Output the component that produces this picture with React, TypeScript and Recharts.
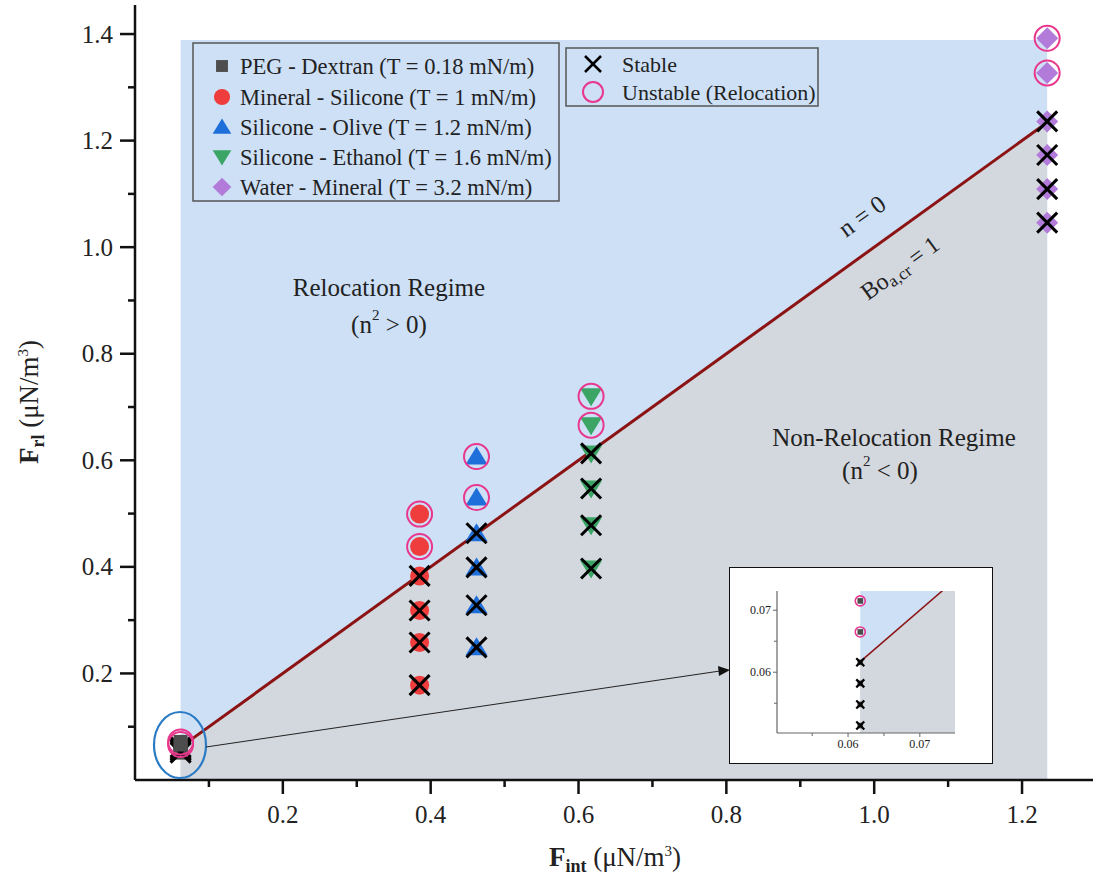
import React from 'react'
import { ComposedChart, Scatter, Line, Area, XAxis, YAxis, ReferenceArea } from 'recharts'

// axis ticks
const xMajor = [0.2, 0.4, 0.6, 0.8, 1.0, 1.2]
const xMinor = [0.1, 0.3, 0.5, 0.7, 0.9, 1.1]
const yMajor = [0.2, 0.4, 0.6, 0.8, 1.0, 1.2, 1.4]
const yMinor = [0.1, 0.3, 0.5, 0.7, 0.9, 1.1, 1.3]
const insetMajor = [0.06, 0.07]
const insetMinor = [0.055, 0.065]

// F_int of each fluid pair, F_rl of stable / unstable runs
const pegX = 0.0617
const pegStable = [0.0616, 0.0582, 0.0548, 0.0514]
const pegUnstable = [0.0715, 0.0665]
const mineralX = 0.385
const mineralStable = [0.383, 0.318, 0.258, 0.178]
const mineralUnstable = [0.499, 0.438]
const oliveX = 0.462
const oliveStable = [0.463, 0.399, 0.328, 0.249]
const oliveUnstable = [0.607, 0.53]
const ethanolX = 0.617
const ethanolStable = [0.613, 0.547, 0.478, 0.397]
const ethanolUnstable = [0.72, 0.666]
const waterX = 1.234
const waterStable = [1.236, 1.173, 1.109, 1.046]
const waterUnstable = [1.392, 1.327]

// n = 0 boundary (Bo_a,cr = 1) and relocation regime extent
const boundaryX = [0.0617, 1.234]
const boundaryY = [0.0617, 1.234]
const regimeTop = 1.389

const pairNames = ['PEG - Dextran', 'Mineral - Silicone', 'Silicone - Olive', 'Silicone - Ethanol', 'Water - Mineral']
const tensions = ['0.18', '1', '1.2', '1.6', '3.2']

const FONT = '"Liberation Serif", "Times New Roman", serif'
const BLUE_BG = '#cde0f6'
const GRAY_BG = '#d3d7de'
const RING = '#e8378c'
const LINE_RED = '#8c1313'

type Kind = 'square' | 'circle' | 'up' | 'down' | 'diamond'
const kinds: Kind[] = ['square', 'circle', 'up', 'down', 'diamond']
const colors = ['#4d4d4d', '#ef3d3d', '#1f6fdb', '#3aa565', '#b27bd9']

function Marker({ kind, color, cx, cy, s = 1 }: { kind: Kind; color: string; cx: number; cy: number; s?: number }) {
    if (kind === 'square') return <rect x={cx - 7 * s} y={cy - 7 * s} width={14 * s} height={14 * s} fill={color} />
    if (kind === 'circle') return <circle cx={cx} cy={cy} r={9.5 * s} fill={color} />
    if (kind === 'up')
        return <polygon points={`${cx},${cy - 10 * s} ${cx + 11 * s},${cy + 8 * s} ${cx - 11 * s},${cy + 8 * s}`} fill={color} />
    if (kind === 'down')
        return <polygon points={`${cx},${cy + 10 * s} ${cx + 11 * s},${cy - 8 * s} ${cx - 11 * s},${cy - 8 * s}`} fill={color} />
    return <polygon points={`${cx},${cy - 11 * s} ${cx + 11 * s},${cy} ${cx},${cy + 11 * s} ${cx - 11 * s},${cy}`} fill={color} />
}

function Cross({ cx, cy, s = 1, w = 3 }: { cx: number; cy: number; s?: number; w?: number }) {
    const h = 10 * s
    return (
        <g stroke="#000" strokeWidth={w}>
            <line x1={cx - h} y1={cy - h} x2={cx + h} y2={cy + h} />
            <line x1={cx - h} y1={cy + h} x2={cx + h} y2={cy - h} />
        </g>
    )
}

function Ring({ cx, cy, s = 1, w = 2 }: { cx: number; cy: number; s?: number; w?: number }) {
    return <circle cx={cx} cy={cy} r={12.5 * s} fill="none" stroke={RING} strokeWidth={w} />
}

const pts = (x: number, ys: number[]) => ys.map((y) => ({ x, y }))
const boundary = boundaryX.map((x, i) => ({ x, y: boundaryY[i] }))

const groups = [
    { stable: pts(pegX, pegStable), unstable: pts(pegX, pegUnstable) },
    { stable: pts(mineralX, mineralStable), unstable: pts(mineralX, mineralUnstable) },
    { stable: pts(oliveX, oliveStable), unstable: pts(oliveX, oliveUnstable) },
    { stable: pts(ethanolX, ethanolStable), unstable: pts(ethanolX, ethanolUnstable) },
    { stable: pts(waterX, waterStable), unstable: pts(waterX, waterUnstable) },
]

function stableShape(i: number, s: number, w: number) {
    return (p: any) => (
        <g>
            <Marker kind={kinds[i]} color={colors[i]} cx={p.cx} cy={p.cy} s={s} />
            <Cross cx={p.cx} cy={p.cy} s={s} w={w} />
        </g>
    )
}

function unstableShape(i: number, s: number, w: number) {
    return (p: any) => (
        <g>
            <Marker kind={kinds[i]} color={colors[i]} cx={p.cx} cy={p.cy} s={s} />
            <Ring cx={p.cx} cy={p.cy} s={s} w={w} />
        </g>
    )
}

const fmt1 = (v: number) => v.toFixed(1)
const fmt2 = (v: number) => v.toFixed(2)

function makeXTick(major: number[], big: number, small: number, fs: number, off: number, stroke: string, sw: number, f: (v: number) => string) {
    return (p: any) => {
        const v = p.payload.value
        const isMajor = major.some((m) => Math.abs(m - v) < 1e-9)
        return (
            <g>
                <line x1={p.x} y1={p.y} x2={p.x} y2={p.y + (isMajor ? big : small)} stroke={stroke} strokeWidth={sw} />
                {isMajor && (
                    <text x={p.x} y={p.y + off} textAnchor="middle" fontSize={fs} fontFamily={FONT} fill="#222">
                        {f(v)}
                    </text>
                )}
            </g>
        )
    }
}

function makeYTick(major: number[], big: number, small: number, fs: number, off: number, stroke: string, sw: number, f: (v: number) => string) {
    return (p: any) => {
        const v = p.payload.value
        const isMajor = major.some((m) => Math.abs(m - v) < 1e-9)
        return (
            <g>
                <line x1={p.x} y1={p.y} x2={p.x - (isMajor ? big : small)} y2={p.y} stroke={stroke} strokeWidth={sw} />
                {isMajor && (
                    <text x={p.x - off} y={p.y} textAnchor="end" dominantBaseline="central" fontSize={fs} fontFamily={FONT} fill="#222">
                        {f(v)}
                    </text>
                )}
            </g>
        )
    }
}

function MainChart() {
    return (
        <ComposedChart width={1093} height={890} margin={{ top: 5, right: 0, bottom: 0, left: 0 }}>
            <XAxis
                type="number"
                dataKey="x"
                domain={[0, 1.296]}
                ticks={[...xMinor, ...xMajor].sort((a, b) => a - b)}
                interval={0}
                tickSize={0}
                tickMargin={0}
                tickLine={false}
                height={110}
                axisLine={{ stroke: '#111', strokeWidth: 2.5 }}
                tick={makeXTick(xMajor, 14, 7, 25, 43, '#111', 2.5, fmt1)}
            />
            <YAxis
                type="number"
                dataKey="y"
                domain={[0, 1.4545]}
                ticks={[...yMinor, ...yMajor].sort((a, b) => a - b)}
                interval={0}
                tickSize={0}
                tickMargin={0}
                tickLine={false}
                width={135}
                axisLine={{ stroke: '#111', strokeWidth: 2.5 }}
                tick={makeYTick(yMajor, 15, 7, 25, 22, '#111', 2.5, fmt1)}
            />
            <ReferenceArea x1={boundaryX[0]} x2={boundaryX[1]} y1={0} y2={regimeTop} fill={BLUE_BG} fillOpacity={1} stroke="none" />
            <Area data={boundary} dataKey="y" type="linear" fill={GRAY_BG} fillOpacity={1} stroke="none" isAnimationActive={false} />
            <Line data={boundary} dataKey="y" type="linear" stroke={LINE_RED} strokeWidth={3} dot={false} isAnimationActive={false} />
            {groups.map((g, i) => (
                <Scatter key={'s' + i} data={g.stable} shape={stableShape(i, 1, 3)} isAnimationActive={false} />
            ))}
            {groups.map((g, i) => (
                <Scatter key={'u' + i} data={g.unstable} shape={unstableShape(i, 1, 2)} isAnimationActive={false} />
            ))}
        </ComposedChart>
    )
}

function InsetChart() {
    return (
        <ComposedChart width={262} height={195} margin={{ top: 23, right: 37, bottom: 0, left: 0 }}>
            <XAxis
                type="number"
                dataKey="x"
                domain={[0.0501, 0.0749]}
                allowDataOverflow
                ticks={[...insetMinor, ...insetMajor].sort((a, b) => a - b)}
                interval={0}
                tickSize={0}
                tickMargin={0}
                tickLine={false}
                height={30}
                axisLine={{ stroke: '#666', strokeWidth: 1.2 }}
                tick={makeXTick(insetMajor, 4, 3, 12, 15, '#666', 1, fmt2)}
            />
            <YAxis
                type="number"
                dataKey="y"
                domain={[0.0502, 0.0731]}
                allowDataOverflow
                ticks={[...insetMinor, ...insetMajor].sort((a, b) => a - b)}
                interval={0}
                tickSize={0}
                tickMargin={0}
                tickLine={false}
                width={47}
                axisLine={{ stroke: '#666', strokeWidth: 1.2 }}
                tick={makeYTick(insetMajor, 4, 3, 12, 6, '#666', 1, fmt2)}
            />
            <ReferenceArea x1={boundaryX[0]} x2={boundaryX[1]} y1={0} y2={regimeTop} ifOverflow="hidden" fill={BLUE_BG} fillOpacity={1} stroke="none" />
            <Area data={boundary} dataKey="y" type="linear" fill={GRAY_BG} fillOpacity={1} stroke="none" isAnimationActive={false} />
            <Line data={boundary} dataKey="y" type="linear" stroke={LINE_RED} strokeWidth={1.5} dot={false} isAnimationActive={false} />
            <Scatter data={groups[0].stable} shape={stableShape(0, 0.4, 2.2)} isAnimationActive={false} />
            <Scatter data={groups[0].unstable} shape={unstableShape(0, 0.4, 1.6)} isAnimationActive={false} />
        </ComposedChart>
    )
}

function Overlay() {
    const legendRows = [66, 97, 127, 157, 187]
    return (
        <svg width={1093} height={890} style={{ position: 'absolute', left: 0, top: 0, pointerEvents: 'none' }} fontFamily={FONT}>
            {/* material legend */}
            <rect x={193} y={43} width={366} height={158} fill="none" stroke="#555" strokeWidth={1.5} />
            {pairNames.map((n, i) => (
                <g key={n}>
                    <Marker kind={kinds[i]} color={colors[i]} cx={222} cy={legendRows[i]} s={0.85} />
                    <text x={240} y={legendRows[i]} dominantBaseline="central" fontSize={22.5} fill="#222">
                        {n} (T = {tensions[i]} mN/m)
                    </text>
                </g>
            ))}
            {/* stability legend */}
            <rect x={566} y={48} width={252} height={58} fill="none" stroke="#555" strokeWidth={1.5} />
            <Cross cx={593} cy={64} s={0.8} w={2.5} />
            <text x={622} y={64} dominantBaseline="central" fontSize={22} fill="#222">Stable</text>
            <circle cx={593} cy={92} r={10} fill="none" stroke={RING} strokeWidth={2} />
            <text x={622} y={92} dominantBaseline="central" fontSize={22} fill="#222">Unstable (Relocation)</text>

            {/* regime annotations */}
            <text x={389} y={287} textAnchor="middle" dominantBaseline="central" fontSize={25} fill="#222">Relocation Regime</text>
            <text x={389} y={324} textAnchor="middle" dominantBaseline="central" fontSize={25} fill="#222">
                (n<tspan dy={-9} fontSize={15}>2</tspan><tspan dy={9}> &gt; 0)</tspan>
            </text>
            <text x={894} y={437} textAnchor="middle" dominantBaseline="central" fontSize={25} fill="#222">Non-Relocation Regime</text>
            <text x={880} y={470} textAnchor="middle" dominantBaseline="central" fontSize={25} fill="#222">
                (n<tspan dy={-9} fontSize={15}>2</tspan><tspan dy={9}> &lt; 0)</tspan>
            </text>
            <text x={862} y={216} textAnchor="middle" dominantBaseline="central" fontSize={25} fill="#222" transform="rotate(-36 862 216)">
                n = 0
            </text>
            <text x={900} y={268} textAnchor="middle" dominantBaseline="central" fontSize={24} fill="#222" transform="rotate(-36 900 268)">
                Bo<tspan dy={6} fontSize={17}>a,cr</tspan><tspan dy={-6}> = 1</tspan>
            </text>

            {/* axis titles */}
            <text x={615} y={866} textAnchor="middle" fontSize={27} fill="#222">
                <tspan fontWeight="bold">F</tspan>
                <tspan fontWeight="bold" fontSize={18} dy={6}>int</tspan>
                <tspan dy={-6}> (μN/m</tspan>
                <tspan fontSize={15} dy={-10}>3</tspan>
                <tspan dy={10}>)</tspan>
            </text>
            <text x={38} y={402} textAnchor="middle" fontSize={27} fill="#222" transform="rotate(-90 38 402)">
                <tspan fontWeight="bold">F</tspan>
                <tspan fontWeight="bold" fontSize={18} dy={6}>rl</tspan>
                <tspan dy={-6}> (μN/m</tspan>
                <tspan fontSize={15} dy={-10}>3</tspan>
                <tspan dy={10}>)</tspan>
            </text>

            {/* zoom callout */}
            <ellipse cx={180} cy={745} rx={26} ry={33} fill="none" stroke="#2a7bc4" strokeWidth={2.2} />
            <line x1={206} y1={747} x2={720} y2={671} stroke="#222" strokeWidth={1} />
            <polygon points="730,670 718,666 719,676" fill="#111" />
        </svg>
    )
}

export default function App() {
    return (
        <div style={{ position: 'absolute', left: 0, top: 0, width: 1093, height: 890, background: '#fff', overflow: 'hidden' }}>
            <MainChart />
            <Overlay />
            <div style={{ position: 'absolute', left: 730, top: 568, width: 262, height: 195, background: '#fff', outline: '1.5px solid #111' }}>
                <InsetChart />
            </div>
        </div>
    )
}
